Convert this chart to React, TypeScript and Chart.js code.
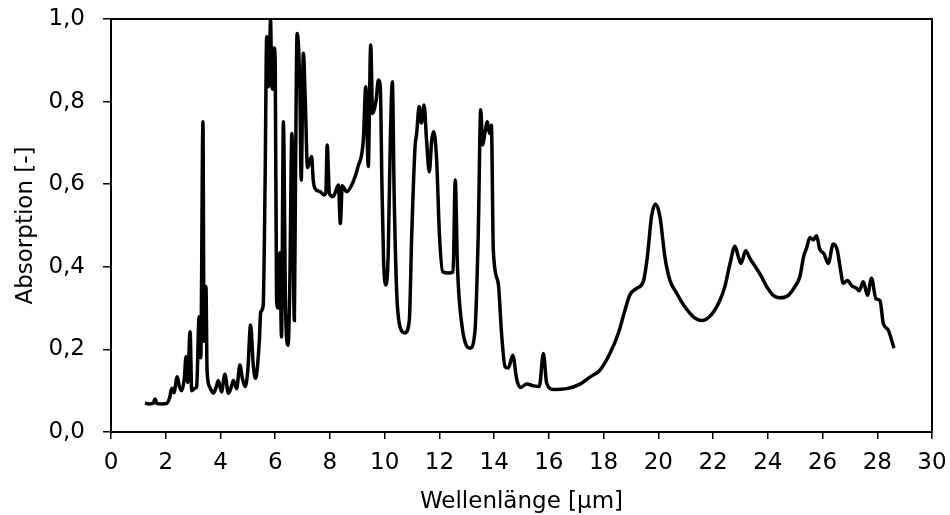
import React, { useEffect, useRef } from "react";
import { Chart, registerables } from "chart.js";

Chart.register(...registerables);

const wavelength = [
  1.24, 1.4, 1.55, 1.61, 1.68, 1.85, 2.03, 2.15, 2.22, 2.3, 2.42, 2.5, 2.58, 2.68, 2.74, 2.8, 2.89, 2.95, 3.05, 3.13,
  3.22, 3.28, 3.36, 3.4, 3.47, 3.51, 3.6, 3.74, 3.85, 3.92, 4.04, 4.16, 4.29, 4.4, 4.47, 4.59, 4.71, 4.8, 4.9, 5.0,
  5.1, 5.2, 5.28, 5.42, 5.47, 5.56, 5.63, 5.69, 5.75, 5.8, 5.83, 5.87, 5.91, 5.96, 6.0, 6.05, 6.11, 6.17, 6.23, 6.3,
  6.38, 6.47, 6.53, 6.61, 6.7, 6.74, 6.8, 6.9, 6.95, 7.03, 7.1, 7.18, 7.33, 7.39, 7.45, 7.64, 7.78, 7.85, 7.9, 7.98,
  8.12, 8.31, 8.38, 8.45, 8.61, 8.85, 9.03, 9.22, 9.31, 9.4, 9.49, 9.56, 9.69, 9.77, 9.84, 9.9, 9.96, 10.05, 10.13, 10.2,
  10.28, 10.35, 10.44, 10.56, 10.74, 10.9, 10.99, 11.11, 11.17, 11.26, 11.34, 11.44, 11.53, 11.63, 11.72, 11.79, 11.9, 12.0, 12.12, 12.32,
  12.5, 12.58, 12.66, 12.82, 13.12, 13.3, 13.42, 13.51, 13.58, 13.66, 13.75, 13.83, 13.9, 13.97, 14.15, 14.27, 14.4, 14.52, 14.68, 14.83,
  14.97, 15.19, 15.43, 15.65, 15.8, 15.92, 16.16, 16.65, 17.14, 17.5, 17.87, 18.23, 18.54, 18.78, 18.96, 19.21, 19.45, 19.6, 19.75, 19.9,
  20.06, 20.24, 20.42, 20.67, 20.97, 21.28, 21.58, 21.95, 22.25, 22.43, 22.62, 22.8, 22.92, 23.02, 23.19, 23.35, 23.59, 23.77, 23.96, 24.2,
  24.44, 24.75, 24.99, 25.17, 25.32, 25.41, 25.54, 25.66, 25.78, 25.9, 26.05, 26.21, 26.39, 26.54, 26.64, 26.76, 26.91, 27.07, 27.24, 27.34,
  27.49, 27.64, 27.79, 27.95, 28.1, 28.22, 28.4, 28.61,
];

const absorption = [
  0.07, 0.068, 0.07, 0.08, 0.069, 0.068, 0.069, 0.085, 0.106, 0.095, 0.134, 0.11, 0.1, 0.13, 0.182, 0.12, 0.243, 0.1, 0.105, 0.11,
  0.279, 0.18, 0.751, 0.22, 0.352, 0.15, 0.11, 0.094, 0.11, 0.125, 0.097, 0.14, 0.094, 0.11, 0.125, 0.105, 0.162, 0.13, 0.11, 0.15,
  0.259, 0.16, 0.13, 0.22, 0.29, 0.305, 0.6, 0.957, 0.836, 0.93, 1.0, 0.85, 0.83, 0.93, 0.9, 0.32, 0.3, 0.434, 0.23, 0.751,
  0.29, 0.21, 0.34, 0.723, 0.27, 0.6, 0.965, 0.836, 0.61, 0.917, 0.8, 0.64, 0.667, 0.61, 0.59, 0.582, 0.574, 0.58, 0.695, 0.578,
  0.57, 0.598, 0.505, 0.596, 0.582, 0.606, 0.643, 0.707, 0.836, 0.643, 0.937, 0.771, 0.804, 0.852, 0.836, 0.6, 0.416, 0.356, 0.433, 0.683,
  0.848, 0.562, 0.338, 0.255, 0.24, 0.27, 0.48, 0.691, 0.723, 0.788, 0.748, 0.792, 0.707, 0.63, 0.707, 0.727, 0.658, 0.48, 0.388, 0.385,
  0.388, 0.61, 0.4, 0.26, 0.203, 0.245, 0.48, 0.78, 0.695, 0.723, 0.751, 0.723, 0.743, 0.441, 0.36, 0.24, 0.158, 0.155, 0.186, 0.126,
  0.108, 0.116, 0.112, 0.11, 0.19, 0.118, 0.103, 0.105, 0.116, 0.133, 0.15, 0.19, 0.239, 0.295, 0.332, 0.348, 0.364, 0.425, 0.521, 0.552,
  0.521, 0.424, 0.368, 0.336, 0.303, 0.279, 0.27, 0.285, 0.319, 0.352, 0.408, 0.45, 0.425, 0.408, 0.439, 0.42, 0.396, 0.376, 0.352, 0.331,
  0.325, 0.331, 0.352, 0.376, 0.428, 0.444, 0.471, 0.465, 0.475, 0.442, 0.432, 0.408, 0.455, 0.44, 0.4, 0.36, 0.367, 0.354, 0.348, 0.342,
  0.364, 0.331, 0.372, 0.323, 0.318, 0.263, 0.247, 0.203,
];

const xTitle = "Wellenlänge [µm]";
const yTitle = "Absorption [-]";

const FONT = "'DejaVu Sans', sans-serif";

const frame = {
  id: "frame",
  afterDatasetsDraw(chart: any) {
    const { ctx, chartArea: a } = chart;
    ctx.save();
    ctx.strokeStyle = "#000";
    ctx.lineWidth = 2;
    ctx.strokeRect(a.left, a.top, a.right - a.left, a.bottom - a.top);
    ctx.restore();
  },
};

export default function App() {
  const ref = useRef<HTMLCanvasElement | null>(null);

  useEffect(() => {
    if (!ref.current) return;
    const data = wavelength.map((x, i) => ({ x, y: absorption[i] }));
    const chart = new Chart(ref.current, {
      type: "line",
      data: {
        datasets: [
          {
            data,
            borderColor: "#000",
            borderWidth: 3.5,
            pointRadius: 0,
            fill: false,
            cubicInterpolationMode: "monotone",
          },
        ],
      },
      options: {
        animation: false,
        responsive: false,
        layout: { padding: { top: 19, right: 18, left: 0, bottom: 0 } },
        plugins: { legend: { display: false }, tooltip: { enabled: false } },
        scales: {
          x: {
            type: "linear",
            min: 0,
            max: 30,
            afterFit: (s: any) => {
              s.height = 83;
              s.paddingLeft = 0;
              s.paddingRight = 0;
            },
            ticks: {
              stepSize: 2,
              color: "#000",
              font: { family: FONT, size: 23 },
              padding: 10,
              maxRotation: 0,
              autoSkip: false,
              callback: (v: any) => String(v),
            },
            grid: { display: true, drawOnChartArea: false, drawTicks: true, tickLength: 7, color: "#000", lineWidth: 1.5 },
            border: { display: true, color: "#000", width: 2 },
            title: { display: true, text: xTitle, color: "#000", font: { family: FONT, size: 23 }, padding: { top: 0, bottom: -1 } },
          },
          y: {
            min: 0,
            max: 1,
            afterFit: (s: any) => {
              s.width = 111;
              s.paddingTop = 0;
              s.paddingBottom = 0;
            },
            ticks: {
              stepSize: 0.2,
              color: "#000",
              font: { family: FONT, size: 23 },
              padding: 18,
              callback: (v: any) => Number(v).toFixed(1).replace(".", ","),
            },
            grid: { display: true, drawOnChartArea: false, drawTicks: true, tickLength: 8, color: "#000", lineWidth: 1.5 },
            border: { display: true, color: "#000", width: 2 },
            title: { display: true, text: yTitle, color: "#000", font: { family: FONT, size: 23 }, padding: { top: 12, bottom: 0 } },
          },
        },
      },
      plugins: [frame],
    });
    return () => chart.destroy();
  }, []);

  return (
    <div style={{ position: "absolute", left: 0, top: 0, width: 950, height: 515, background: "#fff" }}>
      <canvas ref={ref} width={950} height={515} style={{ display: "block" }} />
    </div>
  );
}
